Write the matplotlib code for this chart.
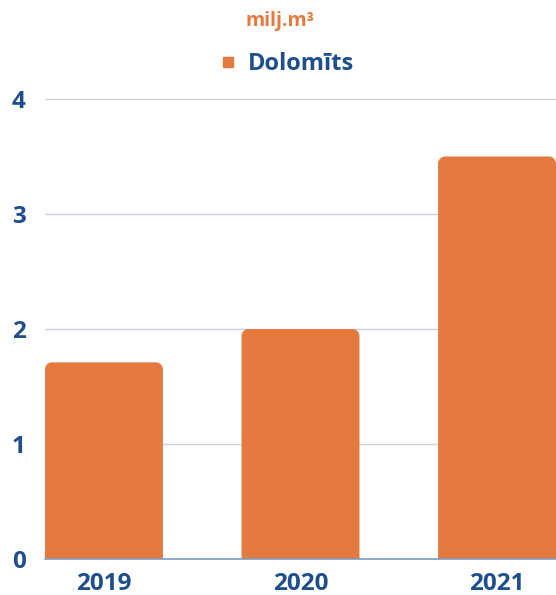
import matplotlib
matplotlib.use("Agg")
import matplotlib.pyplot as plt
from matplotlib.path import Path
from matplotlib.patches import PathPatch
from matplotlib.lines import Line2D

categories = ["2019", "2020", "2021"]
values = [1.71, 2.0, 3.5]
series_name = "Dolomīts"
unit_label = "milj.m³"
y_ticks = [0, 1, 2, 3, 4]

ORANGE = "#e57a3f"
BLUE = "#1f4e8c"
GRID = "#c9d2de"
FONT = ["Open Sans", "DejaVu Sans"]

W, H = 556, 595
fig = plt.figure(figsize=(W / 100, H / 100), dpi=100)
ax = fig.add_axes([45 / W, (H - 559) / H, (W - 45) / W, (559 - 99) / H])

x = list(range(len(categories)))
bw = 0.6
ax.set_xlim(-0.3, 2.3)
ax.set_ylim(0, 4)

# pixel -> data scale for rounded corners
px_x = (2.6) / (W - 45)
px_y = 4 / (559 - 99)
r_px = 7
rx, ry = r_px * px_x, r_px * px_y
k = 0.5523

for xi, v in zip(x, values):
    x0, x1 = xi - bw / 2, xi + bw / 2
    verts = [
        (x0, 0), (x0, v - ry),
        (x0, v - ry + k * ry), (x0 + rx - k * rx, v), (x0 + rx, v),
        (x1 - rx, v),
        (x1 - rx + k * rx, v), (x1, v - ry + k * ry), (x1, v - ry),
        (x1, 0), (x0, 0),
    ]
    codes = [Path.MOVETO, Path.LINETO,
             Path.CURVE4, Path.CURVE4, Path.CURVE4,
             Path.LINETO,
             Path.CURVE4, Path.CURVE4, Path.CURVE4,
             Path.LINETO, Path.CLOSEPOLY]
    ax.add_patch(PathPatch(Path(verts, codes), facecolor=ORANGE, edgecolor="none", zorder=3))

ax.set_yticks(y_ticks)
ax.set_xticks(x)
ax.set_xticklabels(categories)
ax.yaxis.grid(True, color=GRID, linewidth=1.0, zorder=0)
ax.set_axisbelow(True)
for s in ["top", "right", "left"]:
    ax.spines[s].set_visible(False)
ax.spines["bottom"].set_color("#7d9cc0")
ax.spines["bottom"].set_linewidth(1.2)
ax.spines["bottom"].set_zorder(4)
ax.tick_params(axis="both", length=0)
ax.tick_params(axis="y", pad=14)
ax.tick_params(axis="x", pad=9)
for lab in ax.get_xticklabels() + ax.get_yticklabels():
    lab.set_fontfamily(FONT)
    lab.set_fontweight("bold")
    lab.set_fontsize(17.5)
    lab.set_color(BLUE)

fig.text(280 / W, 1 - 21 / H, unit_label, ha="center", va="center",
         color=ORANGE, fontsize=14, fontweight="bold", family=FONT)

handle = Line2D([], [], marker="s", linestyle="none", color=ORANGE, markersize=7.5)
leg = fig.legend([handle], [series_name], loc="center", bbox_to_anchor=(285 / W, 1 - 64 / H),
                 frameon=False, handletextpad=0.35, handlelength=1.0,
                 prop={"family": FONT, "weight": "bold", "size": 17})
for t in leg.get_texts():
    t.set_color(BLUE)

fig.savefig("out.png", dpi=100)
